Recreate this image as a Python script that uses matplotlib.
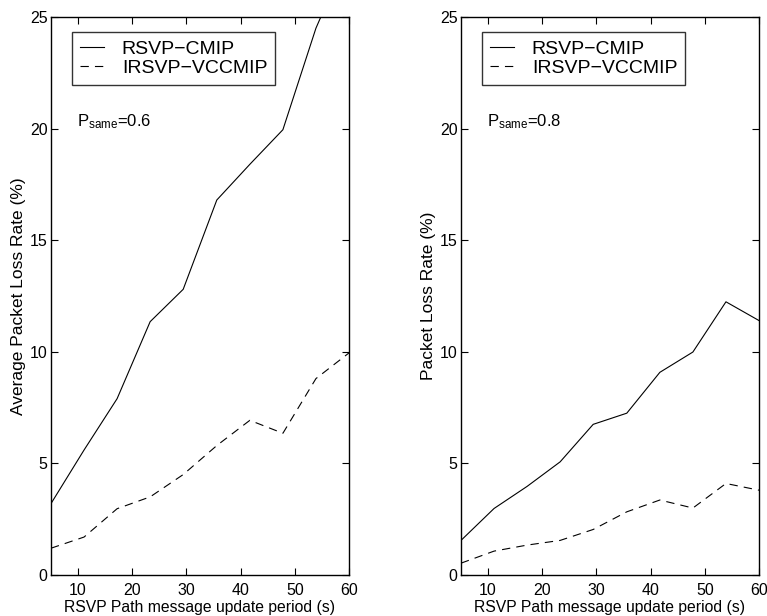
import matplotlib
matplotlib.use('Agg')
import matplotlib.pyplot as plt

plt.rcParams['font.family'] = ['Liberation Sans', 'DejaVu Sans']
plt.rcParams['mathtext.fontset'] = 'custom'
plt.rcParams['mathtext.rm'] = 'Liberation Sans'

# update period (s)
period = [5, 11.1, 17.2, 23.3, 29.4, 35.6, 41.7, 47.8, 53.9, 60]

# P_same = 0.6
cmip_06 = [3.2, 5.6, 7.9, 11.35, 12.8, 16.8, 18.4, 19.95, 24.5, 27.9]
vcc_06 = [1.2, 1.7, 2.97, 3.5, 4.5, 5.8, 6.93, 6.35, 8.8, 9.95]

# P_same = 0.8
cmip_08 = [1.55, 2.98, 3.97, 5.07, 6.75, 7.25, 9.08, 9.99, 12.24, 11.4]
vcc_08 = [0.53, 1.07, 1.34, 1.55, 2.04, 2.83, 3.36, 3.0, 4.1, 3.8]

labels = ['RSVP\u2212CMIP', 'IRSVP\u2212VCCMIP']
ylabels = ['Average Packet Loss Rate (%)', 'Packet Loss Rate (%)']
psame = ['0.6', '0.8']

fig = plt.figure(figsize=(7.67, 6.16), dpi=100)
W, H = 767.0, 616.0
ax1 = fig.add_axes([51 / W, 1 - 575 / H, 298 / W, 558 / H])
ax2 = fig.add_axes([461 / W, 1 - 575 / H, 298 / W, 558 / H])

for ax, solid, dashed, yl, p in [(ax1, cmip_06, vcc_06, ylabels[0], psame[0]),
                                 (ax2, cmip_08, vcc_08, ylabels[1], psame[1])]:
    ax.plot(period, solid, color='black', lw=0.8, label=labels[0])
    ax.plot(period, dashed, color='black', lw=0.8, dashes=(7.5, 5.5), label=labels[1])
    ax.set_xlim(5, 60)
    ax.set_ylim(0, 25)
    ax.set_xticks([10, 20, 30, 40, 50, 60])
    ax.set_yticks([0, 5, 10, 15, 20, 25])
    ax.tick_params(direction='in', top=True, right=True, length=5, width=0.8,
                   labelsize=11.5)
    ax.tick_params(axis='x', pad=6)
    ax.tick_params(axis='y', pad=2.5)
    for s in ax.spines.values():
        s.set_linewidth(1.0)
    ax.set_xlabel('RSVP Path message update period (s)', fontsize=11.3, labelpad=1)
    ax.set_ylabel(yl, fontsize=12.5, labelpad=3)
    leg = ax.legend(loc='upper left', bbox_to_anchor=(0.07, 0.973), fontsize=14,
                    frameon=True, fancybox=False, edgecolor='black',
                    handlelength=1.25, handletextpad=0.9, labelspacing=0.08,
                    borderpad=0.42, borderaxespad=0)
    leg.get_frame().set_linewidth(1.0)
    for line in leg.get_lines():
        line.set_linewidth(0.8)
    ax.text(9.8, 20.1, r'$\mathregular{P_{same}}$=' + p, fontsize=12,
            va='baseline', ha='left')

fig.savefig('out.png', dpi=100)
